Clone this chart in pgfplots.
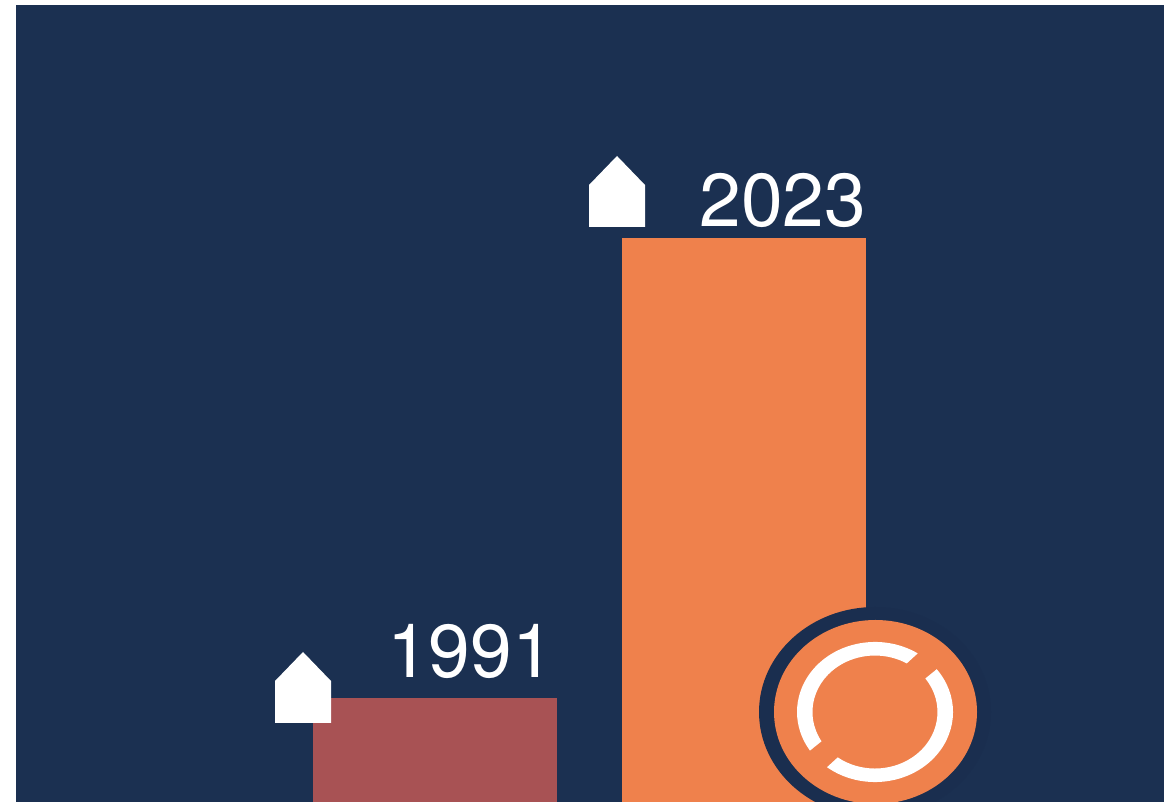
\documentclass[border=0pt]{standalone}
\usepackage{pgfplots}
\pgfplotsset{compat=1.18}
\usepackage{fontspec}
\setmainfont{TeX Gyre Heros}
\definecolor{navy}{HTML}{1B3051}
\definecolor{navyb}{HTML}{1A2E4F}
\definecolor{orng}{HTML}{EF814C}
\definecolor{maroon}{HTML}{A85254}
\begin{document}
\begin{tikzpicture}[x=1pt,y=1pt]
\path[use as bounding box,fill=white] (0,0) rectangle (1173,802);
\fill[navy] (16,0) rectangle (1164,797);
\begin{axis}[at={(0,0)},anchor=south west,scale only axis,width=1173pt,height=802pt,
  xmin=0,xmax=1173,ymin=0,ymax=802,hide axis,enlargelimits=false]
\addplot[ybar,bar width=244pt,bar shift=0pt,fill=maroon,draw=none] coordinates {(435,104)};
\addplot[ybar,bar width=244pt,bar shift=0pt,fill=orng,draw=none] coordinates {(744,564)};
\addplot[fill=white,draw=none] coordinates {(275,79)(275,121)(303,150)(331,121)(331,79)} --cycle;
\addplot[fill=white,draw=none] coordinates {(589,575)(589,617)(617,646)(645,617)(645,575)} --cycle;
\node[anchor=base west,text=white,inner sep=0pt,font=\fontsize{75}{75}\selectfont] at (axis cs:699.3,575) {2023};
\node[anchor=base west,text=white,inner sep=0pt,font=\fontsize{75}{75}\selectfont] at (axis cs:387,124) {1991};
\fill[navyb] (axis cs:875,90) ellipse [x radius=116pt,y radius=105pt];
\fill[orng] (axis cs:875.5,90) ellipse [x radius=101.5pt,y radius=92pt];
\fill[white] (axis cs:917.7,148.6) arc[start angle=56.8,end angle=213.5,x radius=78pt,y radius=70pt]
  -- (axis cs:821.5,60.7) arc[start angle=211.2,end angle=59.4,x radius=62.5pt,y radius=56.5pt] -- cycle;
\fill[white] (axis cs:827,34.8) arc[start angle=232,end angle=397.7,x radius=78pt,y radius=70pt]
  -- (axis cs:925.3,123.5) arc[start angle=396.4,end angle=233.4,x radius=62.5pt,y radius=56.5pt] -- cycle;
\end{axis}
\end{tikzpicture}
\end{document}
